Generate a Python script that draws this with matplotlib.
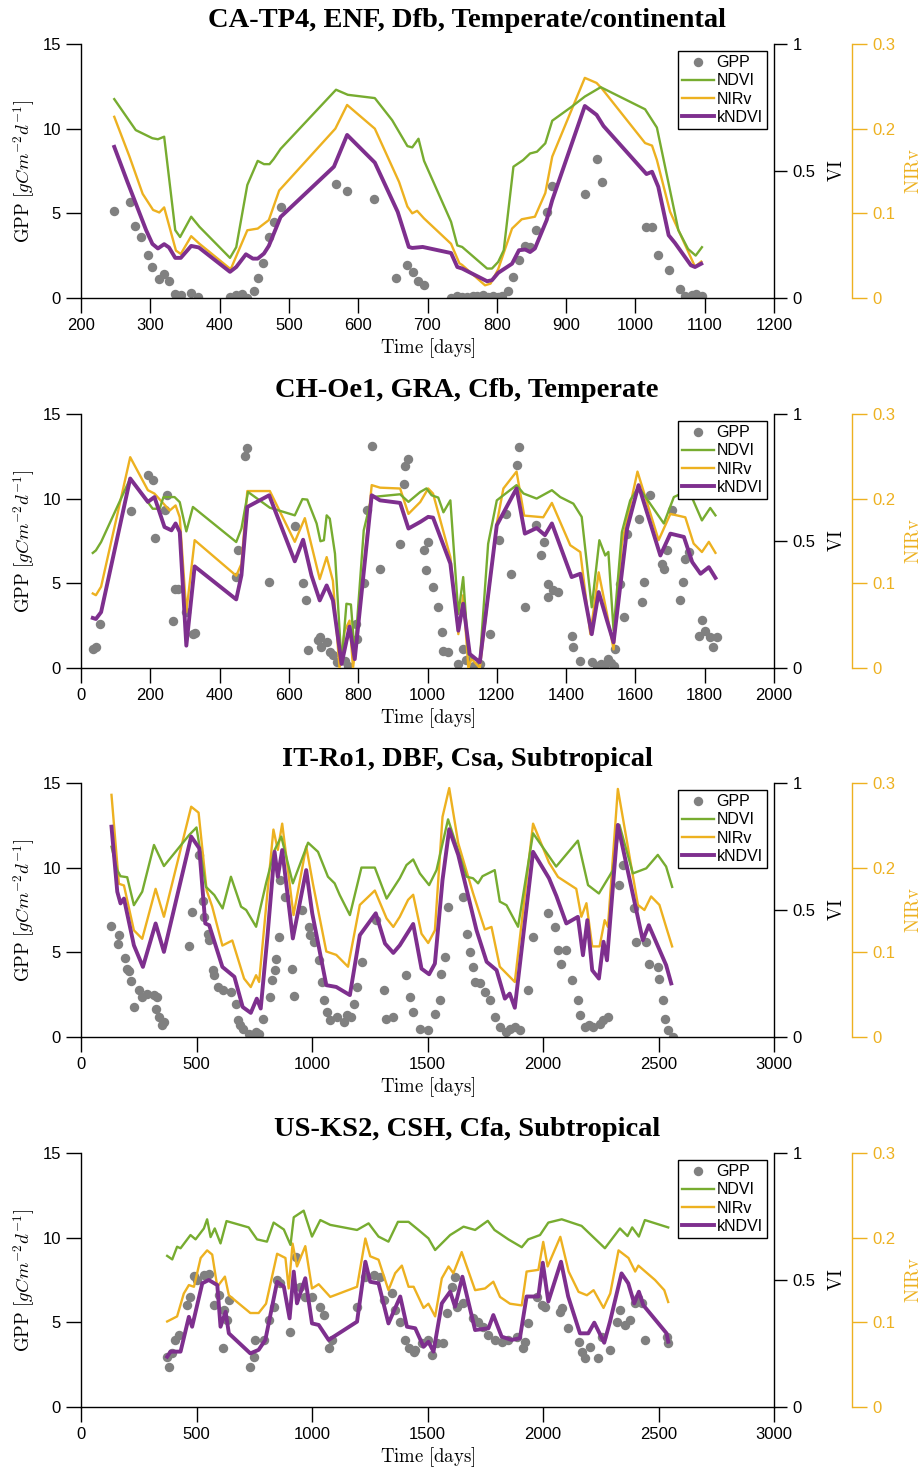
"""
GPP vs vegetation indices at four flux sites (GPP, NDVI, NIRv, kNDVI).
Saves out.png (924x1472).
"""

import matplotlib

matplotlib.use("Agg")
import matplotlib.pyplot as plt  # noqa: E402

plt.rcParams["mathtext.fontset"] = "cm"
plt.rcParams["font.family"] = ["Liberation Sans", "DejaVu Sans"]

GRAY = "#808080"
GREEN = "#77AC30"
ORANGE = "#EDB120"
PURPLE = "#7E2F8E"

# ---------------------------------------------------------------------------
# Data
# ---------------------------------------------------------------------------

# CA-TP4
ca_gpp_t = [248, 270, 278, 287, 296, 303, 313, 320, 327, 336, 344, 359, 369, 415, 424, 432,
            439, 449, 455, 463, 471, 479, 488, 568, 584, 623, 654, 671, 679, 687, 695, 734,
            743, 750, 757, 765, 772, 780, 788, 795, 802, 808, 816, 824, 832, 840, 848, 856,
            872, 879, 927, 944, 952, 1015, 1024, 1032, 1048, 1064, 1072, 1081, 1088, 1096]
ca_gpp = [5.15, 5.64, 4.24, 3.61, 2.52, 1.83, 1.14, 1.4, 0.99, 0.26, 0.16, 0.3, 0.06, 0.06,
          0.16, 0.26, 0.0, 0.41, 1.18, 2.07, 3.61, 4.48, 5.38, 6.73, 6.33, 5.84, 1.2, 1.97,
          1.54, 0.99, 0.75, 0.0, 0.1, 0.08, 0.05, 0.12, 0.1, 0.15, 0.08, 0.1, 0.05, 0.12,
          0.41, 1.24, 2.27, 3.06, 3.02, 4.0, 5.05, 6.6, 6.17, 8.19, 6.86, 4.2, 4.2, 2.52,
          1.64, 0.55, 0.1, 0.16, 0.22, 0.1]
ca_ndvi_t = [248, 279, 303, 311, 320, 336, 343, 359, 371, 415, 424, 440, 455, 464, 472, 478,
             488, 568, 585, 624, 649, 671, 678, 687, 695, 734, 743, 750, 786, 793, 802, 810,
             824, 838, 848, 858, 870, 880, 908, 927, 950, 1014, 1031, 1062, 1076, 1087, 1096]
ca_ndvi = [0.783, 0.661, 0.629, 0.625, 0.635, 0.267, 0.240, 0.320, 0.280, 0.158, 0.200,
           0.445, 0.540, 0.527, 0.527, 0.547, 0.587, 0.820, 0.800, 0.787, 0.700, 0.598,
           0.593, 0.627, 0.540, 0.300, 0.207, 0.201, 0.116, 0.116, 0.142, 0.188, 0.517,
           0.543, 0.569, 0.576, 0.609, 0.698, 0.753, 0.793, 0.830, 0.743, 0.671, 0.267,
           0.193, 0.167, 0.200]
ca_nirv_t = [248, 270, 289, 304, 313, 320, 337, 344, 359, 371, 416, 440, 455, 471, 486, 567,
             584, 624, 659, 671, 678, 685, 695, 734, 746, 750, 783, 791, 802, 822, 836, 855,
             870, 880, 927, 944, 952, 1014, 1024, 1031, 1050, 1086, 1095]
ca_nirv = [0.214, 0.167, 0.123, 0.104, 0.101, 0.107, 0.056, 0.052, 0.073, 0.064, 0.034,
           0.080, 0.082, 0.092, 0.127, 0.200, 0.228, 0.200, 0.137, 0.108, 0.100, 0.103,
           0.094, 0.064, 0.041, 0.039, 0.015, 0.017, 0.034, 0.082, 0.093, 0.096, 0.124,
           0.167, 0.260, 0.254, 0.247, 0.183, 0.180, 0.163, 0.102, 0.037, 0.043]
ca_kndvi_t = [248, 267, 294, 303, 311, 320, 327, 336, 344, 359, 370, 415, 424, 438, 448, 455,
              464, 471, 488, 565, 584, 624, 657, 673, 678, 693, 734, 743, 750, 786, 793, 802,
              822, 832, 841, 848, 855, 872, 880, 927, 944, 954, 1016, 1024, 1033, 1048, 1057,
              1080, 1086, 1095]
ca_kndvi = [0.595, 0.457, 0.267, 0.213, 0.195, 0.212, 0.199, 0.158, 0.158, 0.205, 0.199,
            0.103, 0.122, 0.172, 0.155, 0.155, 0.175, 0.205, 0.319, 0.517, 0.642, 0.533,
            0.339, 0.201, 0.197, 0.201, 0.177, 0.122, 0.116, 0.066, 0.070, 0.099, 0.135,
            0.188, 0.191, 0.181, 0.195, 0.307, 0.385, 0.756, 0.721, 0.677, 0.488, 0.497,
            0.438, 0.247, 0.217, 0.129, 0.122, 0.135]

# CH-Oe1
ch_gpp_t = [34, 43, 56, 145, 193, 209, 215, 241, 248, 265, 270, 280, 302, 323, 328, 448, 453,
            472, 480, 543, 617, 641, 649, 656, 683, 689, 694, 709, 718, 727, 740, 761, 770,
            795, 797, 816, 824, 841, 863, 921, 931, 934, 944, 991, 997, 1002, 1016, 1031,
            1041, 1046, 1060, 1089, 1103, 1110, 1127, 1135, 1151, 1180, 1205, 1227, 1240,
            1257, 1265, 1281, 1313, 1329, 1336, 1347, 1349, 1363, 1378, 1416, 1421, 1441,
            1474, 1489, 1500, 1508, 1522, 1530, 1537, 1542, 1556, 1568, 1576, 1609, 1619,
            1624, 1643, 1677, 1682, 1691, 1706, 1730, 1738, 1744, 1754, 1783, 1792, 1802,
            1816, 1824, 1836]
ch_gpp = [1.12, 1.26, 2.57, 9.28, 11.39, 11.13, 7.68, 9.31, 10.24, 2.8, 4.68, 4.68, 3.3,
          2.01, 2.05, 5.37, 6.95, 12.5, 12.97, 5.07, 8.37, 5.0, 3.99, 1.07, 1.66, 1.82, 1.22,
          1.56, 0.93, 0.79, 0.35, 0.43, 0.1, 2.6, 1.72, 5.0, 9.31, 13.1, 5.86, 7.34, 10.85,
          11.92, 12.37, 6.95, 5.76, 7.44, 4.78, 3.59, 2.11, 1.03, 0.93, 0.24, 1.12, 0.5,
          0.04, 0.1, 0.24, 2.01, 7.54, 9.12, 5.53, 11.98, 13.07, 3.59, 8.43, 6.65, 7.44,
          4.18, 4.97, 4.58, 4.48, 1.91, 1.22, 0.43, 0.34, 0.14, 0.25, 0.14, 0.53, 0.3, 0.14,
          1.12, 4.97, 3.0, 7.93, 8.82, 3.89, 5.07, 10.2, 6.16, 5.86, 6.95, 9.32, 3.99, 5.07,
          6.45, 6.85, 1.91, 2.84, 2.21, 1.82, 1.22, 1.86]
ch_ndvi_t = [34, 43, 58, 142, 207, 227, 238, 270, 285, 304, 323, 448, 463, 482, 545, 617, 639,
             653, 680, 691, 701, 709, 718, 733, 752, 766, 779, 790, 816, 839, 921, 945, 979,
             997, 1012, 1031, 1046, 1066, 1089, 1103, 1118, 1127, 1151, 1175, 1200, 1257,
             1277, 1315, 1359, 1383, 1421, 1445, 1474, 1496, 1513, 1522, 1537, 1561, 1585,
             1609, 1682, 1711, 1754, 1792, 1816, 1831]
ch_ndvi = [0.453, 0.463, 0.496, 0.746, 0.627, 0.627, 0.673, 0.673, 0.653, 0.538, 0.634,
           0.496, 0.549, 0.693, 0.631, 0.601, 0.665, 0.663, 0.569, 0.499, 0.503, 0.601,
           0.588, 0.450, 0.016, 0.253, 0.250, 0.055, 0.542, 0.673, 0.684, 0.654, 0.693,
           0.707, 0.680, 0.671, 0.613, 0.660, 0.213, 0.358, 0.055, 0.042, 0.029, 0.489,
           0.660, 0.720, 0.687, 0.667, 0.700, 0.673, 0.647, 0.595, 0.239, 0.503, 0.443,
           0.457, 0.147, 0.535, 0.660, 0.713, 0.569, 0.673, 0.700, 0.581, 0.630, 0.601]
ch_nirv_t = [34, 43, 58, 142, 193, 212, 256, 273, 285, 304, 328, 448, 463, 480, 545, 617, 646,
             689, 709, 727, 746, 761, 775, 785, 797, 839, 863, 921, 945, 979, 1002, 1016, 1066,
             1089, 1103, 1118, 1127, 1151, 1200, 1219, 1257, 1279, 1334, 1359, 1412, 1441,
             1470, 1494, 1518, 1537, 1561, 1606, 1667, 1701, 1744, 1768, 1792, 1812, 1831]
ch_nirv = [0.088, 0.086, 0.096, 0.249, 0.210, 0.206, 0.186, 0.192, 0.178, 0.066, 0.151,
           0.109, 0.123, 0.209, 0.209, 0.149, 0.177, 0.105, 0.131, 0.103, 0.0, 0.044, 0.056,
           0.0, 0.040, 0.216, 0.213, 0.212, 0.182, 0.196, 0.212, 0.206, 0.131, 0.040, 0.086,
           0.0, 0.011, 0.0, 0.171, 0.212, 0.232, 0.180, 0.178, 0.195, 0.145, 0.137, 0.040,
           0.113, 0.064, 0.022, 0.147, 0.232, 0.151, 0.182, 0.178, 0.147, 0.137, 0.149, 0.136]
ch_kndvi_t = [34, 43, 58, 142, 193, 212, 241, 261, 273, 285, 304, 328, 448, 463, 480, 543,
              617, 641, 665, 689, 709, 727, 752, 775, 790, 839, 863, 921, 945, 979, 1002, 1016,
              1066, 1089, 1103, 1122, 1151, 1200, 1257, 1281, 1315, 1339, 1359, 1416, 1441,
              1474, 1494, 1518, 1537, 1576, 1609, 1672, 1701, 1740, 1764, 1788, 1812, 1831]
ch_kndvi = [0.197, 0.193, 0.220, 0.746, 0.654, 0.673, 0.555, 0.542, 0.569, 0.535, 0.088,
            0.400, 0.270, 0.365, 0.634, 0.680, 0.420, 0.505, 0.365, 0.266, 0.325, 0.266,
            0.016, 0.163, 0.035, 0.680, 0.660, 0.650, 0.549, 0.575, 0.595, 0.592, 0.411,
            0.147, 0.253, 0.055, 0.023, 0.562, 0.707, 0.529, 0.551, 0.523, 0.569, 0.358,
            0.371, 0.133, 0.299, 0.187, 0.101, 0.549, 0.720, 0.443, 0.529, 0.516, 0.417,
            0.371, 0.397, 0.355]

# IT-Ro1
it_gpp_t = [132, 161, 164, 190, 199, 207, 215, 229, 250, 265, 286, 316, 323, 330, 338, 352,
            360, 468, 480, 512, 526, 534, 548, 555, 570, 577, 592, 613, 649, 671, 678, 690,
            700, 729, 740, 758, 770, 787, 819, 826, 841, 846, 855, 862, 884, 913, 923, 956,
            985, 993, 1007, 1029, 1043, 1051, 1065, 1080, 1109, 1138, 1150, 1167, 1181, 1196,
            1218, 1276, 1312, 1320, 1349, 1409, 1424, 1438, 1467, 1503, 1532, 1553, 1560,
            1575, 1589, 1654, 1669, 1683, 1697, 1704, 1726, 1748, 1770, 1791, 1813, 1840,
            1856, 1880, 1899, 1935, 1957, 2022, 2050, 2065, 2079, 2101, 2127, 2151, 2159,
            2180, 2200, 2216, 2245, 2260, 2281, 2331, 2346, 2396, 2403, 2447, 2458, 2497,
            2504, 2519, 2526, 2540, 2562]
it_gpp = [6.57, 5.52, 6.05, 4.67, 4.04, 3.88, 3.29, 1.77, 2.76, 2.37, 2.52, 2.47, 1.68, 2.37,
          1.18, 0.69, 0.9, 5.36, 7.39, 10.74, 8.04, 7.1, 6.11, 5.72, 3.94, 3.65, 2.96, 2.76,
          2.66, 1.97, 0.99, 0.7, 0.49, 0.2, 0.1, 0.3, 0.2, 1.08, 2.37, 3.35, 3.94, 4.63,
          5.92, 9.27, 8.28, 4.04, 2.4, 7.5, 6.51, 6.01, 5.62, 4.53, 3.25, 2.17, 1.48, 0.99,
          1.18, 0.89, 1.3, 1.18, 1.97, 2.96, 4.43, 6.9, 2.76, 1.08, 1.18, 3.65, 2.37, 1.48,
          0.49, 0.39, 1.38, 2.17, 3.75, 4.73, 7.69, 8.28, 6.11, 5.03, 4.14, 3.25, 3.16, 2.66,
          2.17, 1.18, 0.59, 0.3, 0.49, 0.6, 0.43, 2.76, 5.92, 7.3, 6.51, 5.13, 4.34, 5.13,
          3.35, 2.17, 1.28, 0.59, 0.7, 0.59, 0.79, 1.0, 1.18, 8.97, 10.16, 7.59, 5.62, 5.62,
          4.34, 4.14, 3.45, 2.17, 1.08, 0.39, 0.0]
it_ndvi_t = [132, 157, 171, 200, 229, 265, 316, 359, 468, 500, 541, 577, 613, 649, 693, 715,
             758, 801, 838, 867, 917, 983, 1026, 1069, 1098, 1120, 1164, 1214, 1272, 1323,
             1380, 1409, 1438, 1467, 1507, 1539, 1589, 1669, 1697, 1719, 1738, 1791, 1813,
             1842, 1892, 1957, 2057, 2151, 2195, 2242, 2303, 2331, 2389, 2447, 2497, 2533, 2559]
it_ndvi = [0.749, 0.657, 0.633, 0.629, 0.519, 0.572, 0.756, 0.673, 0.795, 0.825, 0.591,
           0.559, 0.506, 0.631, 0.513, 0.500, 0.434, 0.605, 0.736, 0.789, 0.605, 0.765,
           0.729, 0.631, 0.605, 0.559, 0.480, 0.667, 0.667, 0.545, 0.625, 0.677, 0.699,
           0.644, 0.598, 0.657, 0.857, 0.631, 0.625, 0.605, 0.633, 0.657, 0.533, 0.519,
           0.434, 0.802, 0.671, 0.773, 0.598, 0.565, 0.657, 0.835, 0.644, 0.664, 0.717,
           0.671, 0.591]
it_nirv_t = [132, 164, 186, 229, 265, 323, 359, 477, 509, 544, 568, 612, 655, 706, 735, 758,
             771, 802, 833, 852, 871, 920, 975, 1004, 1062, 1105, 1156, 1207, 1272, 1323,
             1352, 1380, 1416, 1438, 1474, 1503, 1532, 1565, 1594, 1633, 1697, 1748, 1777,
             1813, 1878, 1957, 2026, 2065, 2144, 2166, 2188, 2213, 2245, 2267, 2281, 2324,
             2411, 2439, 2468, 2504, 2533, 2559]
it_nirv = [0.286, 0.181, 0.179, 0.126, 0.116, 0.175, 0.142, 0.272, 0.265, 0.173, 0.154,
           0.108, 0.114, 0.069, 0.059, 0.073, 0.065, 0.156, 0.245, 0.221, 0.252, 0.144,
           0.225, 0.181, 0.101, 0.097, 0.083, 0.156, 0.173, 0.140, 0.130, 0.142, 0.162,
           0.168, 0.122, 0.111, 0.126, 0.260, 0.294, 0.229, 0.170, 0.127, 0.130, 0.083,
           0.065, 0.252, 0.206, 0.189, 0.175, 0.142, 0.158, 0.107, 0.107, 0.138, 0.130,
           0.293, 0.156, 0.150, 0.166, 0.156, 0.130, 0.107]
it_kndvi_t = [132, 157, 171, 186, 229, 268, 323, 359, 477, 512, 538, 555, 612, 664, 700, 735,
              761, 778, 807, 838, 852, 871, 917, 975, 1001, 1062, 1105, 1164, 1207, 1276,
              1316, 1352, 1380, 1438, 1474, 1507, 1532, 1565, 1594, 1633, 1712, 1756, 1799,
              1835, 1856, 1878, 1957, 2026, 2058, 2101, 2151, 2173, 2192, 2213, 2242, 2262,
              2277, 2324, 2432, 2458, 2533, 2555]
it_kndvi = [0.828, 0.572, 0.526, 0.545, 0.361, 0.276, 0.447, 0.335, 0.789, 0.743, 0.447,
            0.440, 0.276, 0.237, 0.118, 0.095, 0.151, 0.112, 0.395, 0.729, 0.631, 0.736,
            0.388, 0.657, 0.487, 0.204, 0.197, 0.165, 0.401, 0.487, 0.368, 0.331, 0.361,
            0.445, 0.269, 0.247, 0.289, 0.618, 0.818, 0.717, 0.421, 0.296, 0.263, 0.151,
            0.171, 0.115, 0.729, 0.625, 0.555, 0.447, 0.473, 0.322, 0.460, 0.263, 0.230,
            0.375, 0.302, 0.835, 0.381, 0.440, 0.283, 0.211]

# US-KS2
us_gpp_t = [373, 380, 395, 409, 424, 460, 474, 489, 503, 532, 553, 575, 597, 615, 618, 633,
            640, 733, 748, 755, 791, 813, 834, 849, 863, 903, 929, 950, 971, 1000, 1036, 1050,
            1072, 1087, 1195, 1231, 1267, 1296, 1310, 1346, 1360, 1382, 1404, 1418, 1440,
            1447, 1476, 1504, 1519, 1540, 1569, 1583, 1605, 1619, 1626, 1655, 1699, 1720,
            1742, 1764, 1793, 1821, 1850, 1886, 1915, 1920, 1937, 1973, 1994, 2009, 2073,
            2081, 2109, 2154, 2167, 2182, 2204, 2240, 2255, 2290, 2319, 2333, 2355, 2377,
            2399, 2413, 2428, 2442, 2535, 2540]
us_gpp = [2.97, 2.38, 3.17, 3.96, 4.25, 6.02, 6.52, 7.74, 7.5, 7.8, 7.83, 6.02, 6.61, 3.46,
          5.73, 5.14, 6.32, 2.38, 2.97, 3.96, 3.96, 5.14, 5.93, 7.5, 7.3, 4.45, 8.88, 7.11,
          6.52, 6.52, 5.93, 5.43, 3.46, 3.96, 5.93, 7.7, 7.8, 7.7, 6.32, 6.71, 5.73, 5.04,
          3.96, 3.46, 3.27, 3.37, 3.76, 3.96, 3.07, 3.76, 3.76, 5.53, 7.11, 7.7, 5.93, 6.12,
          5.24, 5.04, 4.74, 4.25, 3.96, 3.86, 3.96, 4.15, 3.46, 3.86, 4.94, 6.52, 6.02, 5.93,
          5.63, 5.83, 4.65, 3.86, 3.27, 2.87, 3.56, 2.87, 4.15, 3.37, 5.04, 5.73, 4.84, 5.14,
          6.12, 6.42, 6.12, 3.96, 4.15, 3.76]
us_ndvi_t = [373, 395, 416, 431, 474, 496, 532, 546, 561, 579, 604, 630, 726, 762, 805, 834,
             878, 907, 921, 964, 1000, 1036, 1079, 1195, 1245, 1288, 1331, 1372, 1418, 1461,
             1504, 1533, 1598, 1656, 1706, 1761, 1790, 1850, 1908, 1936, 1987, 2023, 2081,
             2167, 2268, 2333, 2366, 2386, 2415, 2441, 2542]
us_ndvi = [0.595, 0.581, 0.631, 0.625, 0.677, 0.660, 0.703, 0.739, 0.669, 0.703, 0.644,
           0.732, 0.707, 0.660, 0.651, 0.726, 0.699, 0.638, 0.747, 0.773, 0.671, 0.736,
           0.717, 0.697, 0.723, 0.671, 0.651, 0.729, 0.729, 0.697, 0.664, 0.618, 0.677,
           0.710, 0.697, 0.733, 0.697, 0.660, 0.629, 0.660, 0.677, 0.726, 0.739, 0.713,
           0.625, 0.703, 0.673, 0.707, 0.671, 0.736, 0.707]
us_nirv_t = [373, 416, 445, 467, 489, 518, 546, 568, 590, 623, 640, 733, 769, 801, 849, 885,
             899, 916, 935, 971, 1000, 1029, 1079, 1195, 1231, 1252, 1288, 1331, 1360, 1389,
             1418, 1440, 1483, 1504, 1533, 1562, 1591, 1612, 1648, 1706, 1749, 1785, 1814,
             1857, 1908, 1929, 1980, 2001, 2020, 2075, 2111, 2154, 2190, 2219, 2262, 2291,
             2327, 2370, 2399, 2413, 2485, 2525, 2542]
us_nirv = [0.101, 0.107, 0.134, 0.144, 0.142, 0.176, 0.185, 0.180, 0.142, 0.154, 0.132,
           0.111, 0.111, 0.122, 0.181, 0.176, 0.140, 0.193, 0.166, 0.190, 0.140, 0.145,
           0.130, 0.142, 0.199, 0.178, 0.174, 0.138, 0.158, 0.167, 0.142, 0.142, 0.117,
           0.122, 0.107, 0.152, 0.166, 0.158, 0.183, 0.138, 0.140, 0.148, 0.130, 0.122,
           0.120, 0.160, 0.162, 0.195, 0.166, 0.201, 0.160, 0.136, 0.132, 0.138, 0.117,
           0.134, 0.185, 0.176, 0.160, 0.167, 0.150, 0.138, 0.124]
us_kndvi_t = [373, 388, 431, 467, 481, 525, 553, 590, 604, 626, 640, 733, 769, 798, 849, 878,
              903, 921, 935, 971, 1000, 1029, 1072, 1195, 1231, 1252, 1288, 1331, 1382, 1411,
              1447, 1483, 1504, 1526, 1562, 1598, 1619, 1651, 1706, 1764, 1785, 1821, 1864,
              1900, 1929, 1980, 1999, 2023, 2078, 2109, 2160, 2196, 2222, 2265, 2290, 2340,
              2369, 2395, 2415, 2434, 2535, 2542]
us_kndvi = [0.198, 0.218, 0.218, 0.355, 0.316, 0.487, 0.500, 0.480, 0.316, 0.375, 0.290,
            0.211, 0.225, 0.264, 0.493, 0.474, 0.349, 0.533, 0.408, 0.507, 0.329, 0.323,
            0.264, 0.336, 0.572, 0.493, 0.487, 0.329, 0.435, 0.316, 0.310, 0.237, 0.257,
            0.218, 0.408, 0.454, 0.395, 0.513, 0.303, 0.310, 0.362, 0.277, 0.264, 0.271,
            0.435, 0.435, 0.568, 0.415, 0.572, 0.435, 0.290, 0.290, 0.332, 0.253, 0.336,
            0.526, 0.487, 0.408, 0.454, 0.401, 0.290, 0.257]

titles = [
    "CA-TP4, ENF, Dfb, Temperate/continental",
    "CH-Oe1, GRA, Cfb, Temperate",
    "IT-Ro1, DBF, Csa, Subtropical",
    "US-KS2, CSH, Cfa, Subtropical",
]
xlims = [(200, 1200), (0, 2000), (0, 3000), (0, 3000)]
xsteps = [100, 200, 500, 500]


# ---------------------------------------------------------------------------
# Drawing
# ---------------------------------------------------------------------------


def draw_panel(fig, rect, title, xlim, xstep, gpp_t, gpp, ndvi_t, ndvi,
               nirv_t, nirv, kndvi_t, kndvi):
    ax = fig.add_axes(rect)
    ax_nirv = ax.twinx()
    ax_vi = ax.twinx()

    h_gpp, = ax.plot(gpp_t, gpp, "o", color=GRAY, ms=6.8, mec="none", label="GPP")
    h_nirv, = ax_nirv.plot(nirv_t, nirv, color=ORANGE, lw=1.7, label="NIRv")
    h_ndvi, = ax_vi.plot(ndvi_t, ndvi, color=GREEN, lw=1.7, label="NDVI")
    h_kndvi, = ax_vi.plot(kndvi_t, kndvi, color=PURPLE, lw=2.8, label="kNDVI")

    # left axis (GPP)
    ax.set_xlim(*xlim)
    ax.set_ylim(0, 15)
    ax.set_xticks(range(xlim[0], xlim[1] + 1, xstep))
    ax.set_yticks([0, 5, 10, 15])
    ax.spines[["top", "right"]].set_visible(False)
    ax.tick_params(direction="out", length=10.5, width=1, labelsize=12, pad=4)
    ax.set_xlabel(r"$\mathrm{Time\ [days]}$", fontsize=13.5, labelpad=2)
    ax.set_ylabel(r"$\mathrm{GPP}\ [gCm^{-2}d^{-1}]$", fontsize=13.5, labelpad=4)

    # VI axis
    ax_vi.set_ylim(0, 1)
    ax_vi.set_yticks([0, 0.5, 1])
    ax_vi.set_yticklabels(["0", "0.5", "1"])
    ax_vi.spines[["top", "left", "bottom"]].set_visible(False)
    ax_vi.tick_params(direction="out", length=9.5, width=1, labelsize=12, pad=4)
    ax_vi.set_ylabel(r"$\mathrm{VI}$", fontsize=13.5, rotation=90, labelpad=9)

    # NIRv axis, offset to the right
    ax_nirv.set_ylim(0, 0.3)
    ax_nirv.set_yticks([0, 0.1, 0.2, 0.3])
    ax_nirv.set_yticklabels(["0", "0.1", "0.2", "0.3"])
    ax_nirv.spines[["top", "left", "bottom"]].set_visible(False)
    ax_nirv.spines["right"].set_position(("axes", 1.1126))
    ax_nirv.spines["right"].set_color(ORANGE)
    ax_nirv.tick_params(direction="out", length=10.5, width=1, labelsize=12, pad=4,
                        colors=ORANGE)
    ax_nirv.set_ylabel(r"$\mathrm{NIRv}$", fontsize=13.5, color=ORANGE, labelpad=7)

    for a in (ax, ax_vi, ax_nirv):
        for sp in a.spines.values():
            sp.set_linewidth(1.0)

    ax.set_title(title, x=0.557, pad=12, fontsize=20.5, fontweight="bold",
                 family=["Liberation Serif", "DejaVu Serif"])

    leg = ax_vi.legend([h_gpp, h_ndvi, h_nirv, h_kndvi], ["GPP", "NDVI", "NIRv", "kNDVI"],
                       loc="upper right", fontsize=11.5, frameon=True, fancybox=False,
                       framealpha=1, edgecolor="black", borderaxespad=0.45, borderpad=0.25,
                       labelspacing=0.2, handlelength=2.0, handletextpad=0.15, numpoints=1)
    leg.get_frame().set_linewidth(1.0)
    return ax


fig = plt.figure(figsize=(9.24, 14.72), dpi=100)

left, width, height = 81 / 924, 693 / 924, 254 / 1472
bottoms = [1 - 298 / 1472, 1 - 668 / 1472, 1 - 1037 / 1472, 1 - 1407 / 1472]

sites = [
    (ca_gpp_t, ca_gpp, ca_ndvi_t, ca_ndvi, ca_nirv_t, ca_nirv, ca_kndvi_t, ca_kndvi),
    (ch_gpp_t, ch_gpp, ch_ndvi_t, ch_ndvi, ch_nirv_t, ch_nirv, ch_kndvi_t, ch_kndvi),
    (it_gpp_t, it_gpp, it_ndvi_t, it_ndvi, it_nirv_t, it_nirv, it_kndvi_t, it_kndvi),
    (us_gpp_t, us_gpp, us_ndvi_t, us_ndvi, us_nirv_t, us_nirv, us_kndvi_t, us_kndvi),
]

for title, xlim, xstep, bottom, series in zip(titles, xlims, xsteps, bottoms, sites):
    draw_panel(fig, [left, bottom, width, height], title, xlim, xstep, *series)

fig.savefig("out.png", dpi=100)
plt.close(fig)
